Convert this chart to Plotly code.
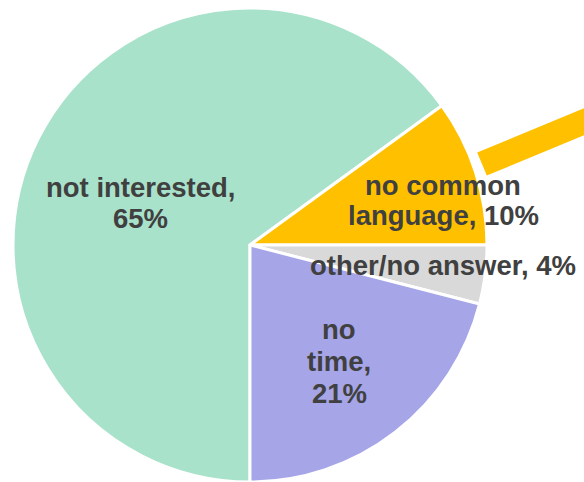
import plotly.graph_objects as go

# Survey answers, clockwise from 6 o'clock
labels = ["not interested", "no common language", "other/no answer", "no time"]
shares = [65, 10, 4, 21]
colors = ["#A9E2CB", "#FFC000", "#D9D9D9", "#A5A5E8"]

# Label text lines (drawn as separate annotations for tight line spacing)
label_lines = [
    ["not interested,", "65%"],
    ["no common", "language, 10%"],
    ["other/no answer, 4%"],
    ["no", "time,", "21%"],
]
# Baseline of first line (px from top) and horizontal centre (px from left)
label_anchor = [(140, 197), (443, 195), (443, 275), (339, 339)]
line_step = [31, 30, 0, 32]

W, H = 584, 482
FONT = "Liberation Sans, Arial, sans-serif"
FS = 27.5


def px(x, y):
    return x / W, 1 - y / H


fig = go.Figure(
    go.Pie(
        labels=labels,
        values=shares,
        sort=False,
        direction="clockwise",
        rotation=180,
        marker=dict(colors=colors, line=dict(color="white", width=3)),
        textinfo="none",
        hoverinfo="label+percent",
        domain=dict(x=[12 / W, 488 / W], y=[0, 1 - 8 / H]),
        showlegend=False,
    )
)

annotations = []
for lines, (cx, by), step in zip(label_lines, label_anchor, line_step):
    for i, t in enumerate(lines):
        x, y = px(cx, by + i * step - 9.5)
        annotations.append(
            dict(
                x=x, y=y, xref="paper", yref="paper",
                text=f"<b>{t}</b>", showarrow=False,
                xanchor="center", yanchor="middle",
                font=dict(family=FONT, size=FS, color="#404040"),
            )
        )

# Yellow callout stripe leading off to the right
x0, y0 = px(482, 164)
x1, y1 = px(610, 111)
shapes = [
    dict(type="line", xref="paper", yref="paper", x0=x0, y0=y0, x1=x1, y1=y1,
         line=dict(color="#FFC000", width=25), layer="below")
]

fig.update_layout(
    width=W, height=H,
    margin=dict(l=0, r=0, t=0, b=0),
    paper_bgcolor="white", plot_bgcolor="white",
    annotations=annotations,
    shapes=shapes,
)

fig.write_html("out.html")
